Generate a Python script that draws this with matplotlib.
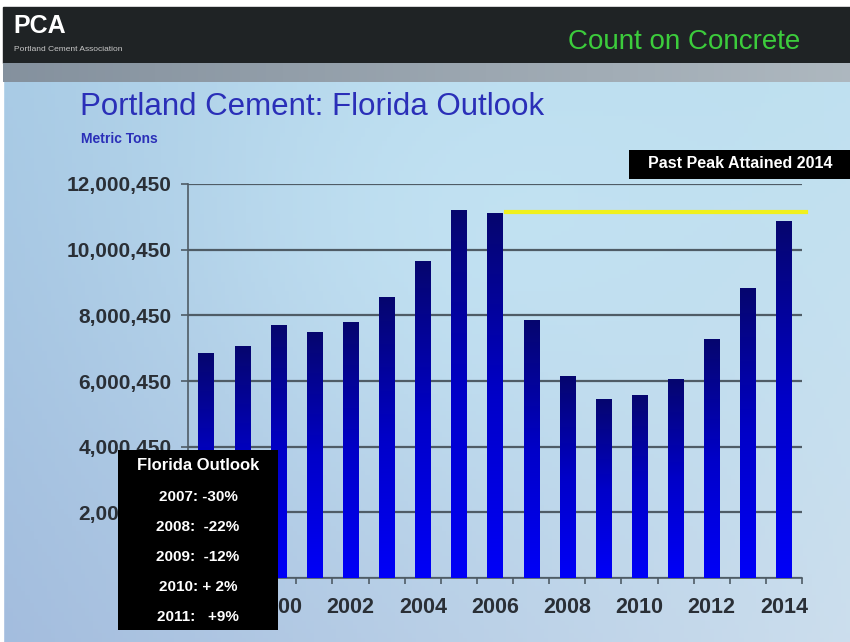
import numpy as np
import matplotlib
matplotlib.use('Agg')
from matplotlib import pyplot as plt
from matplotlib.patches import Rectangle
from matplotlib.colors import LinearSegmentedColormap

years = list(range(1998, 2015))
tons = [6.85e6, 7.06e6, 7.70e6, 7.48e6, 7.79e6, 8.55e6, 9.64e6, 11.18e6, 11.09e6,
        7.85e6, 6.15e6, 5.45e6, 5.55e6, 6.06e6, 7.27e6, 8.82e6, 10.85e6]
y_ticks = [0, 2e6, 4e6, 6e6, 8e6, 10e6, 12e6]
# the 0 label sits under the outlook box in the original, so it is left blank
y_labels = ['', '2,000,450', '4,000,450', '6,000,450', '8,000,450', '10,000,450', '12,000,450']
outlook = ['2007: -30%', '2008:  -22%', '2009:  -12%', '2010: + 2%', '2011:   +9%']

W, H = 850, 642
fig = plt.figure(figsize=(W / 100, H / 100), dpi=100)
sans = ['Liberation Sans', 'DejaVu Sans']

# slide background
bg = fig.add_axes([0, 0, 1, 1])
bg.axis('off')
xx, yy = np.meshgrid(np.linspace(0, 1, 200), np.linspace(0, 1, 150))
tl = np.array([0.66, 0.80, 0.90])
tr = np.array([0.74, 0.88, 0.94])
bl = np.array([0.64, 0.74, 0.87])
br = np.array([0.80, 0.87, 0.93])
img = (tl * ((1 - xx) * (1 - yy))[..., None] + tr * (xx * (1 - yy))[..., None]
       + bl * ((1 - xx) * yy)[..., None] + br * (xx * yy)[..., None])
bump = np.exp(-(((xx - 0.55) / 0.35) ** 2 + ((yy - 0.35) / 0.4) ** 2))[..., None]
img = img * (1 - 0.5 * bump) + np.array([0.80, 0.93, 0.98]) * 0.5 * bump
bg.imshow(np.clip(img, 0, 1), extent=(0, W, H, 0), aspect='auto', zorder=0)
bg.add_patch(Rectangle((0, 0), W, 7, color='white', zorder=1))
bg.add_patch(Rectangle((0, 0), 3, H, color='white', zorder=1))
bg.add_patch(Rectangle((3, 7), W, 56, color='#1f2325', zorder=1))
strip = np.linspace(0, 1, 100)[None, :, None] * np.array([0.16, 0.15, 0.13]) + np.array([0.52, 0.57, 0.62])
bg.imshow(strip, extent=(3, W, 82, 63), aspect='auto', zorder=1)
bg.set_xlim(0, W)
bg.set_ylim(H, 0)

fig.text(13 / W, 1 - 33 / H, 'PCA', color='white', fontsize=18, fontweight='bold',
         family=sans, va='baseline')
fig.text(14 / W, 1 - 51 / H, 'Portland Cement Association', color='#c8c8c8', fontsize=6,
         family=sans, va='baseline')
fig.text(800 / W, 1 - 42 / H, 'Count on Concrete', color='#3ccc3c', fontsize=20,
         family=sans, ha='right', va='center')
fig.text(80 / W, 1 - 115 / H, 'Portland Cement: Florida Outlook', color='#2a2fb8', fontsize=22.5,
         family=sans, va='baseline')
fig.text(81 / W, 1 - 143 / H, 'Metric Tons', color='#2a2fb8', fontsize=10, fontweight='bold',
         family=sans, va='baseline')

# chart
ax = fig.add_axes([188 / W, 1 - 578 / H, 614 / W, 394 / H])
ax.patch.set_alpha(0)
x = np.arange(len(years))
bw = 0.42
ax.bar(x, tons, width=bw, color='none', zorder=3)
cmap = LinearSegmentedColormap.from_list('b', ['#0000f8', '#0000c8', '#06066e'])
grad = np.linspace(0, 1, 256)[:, None]
for xi, v in zip(x, tons):
    ax.imshow(grad, cmap=cmap, extent=(xi - bw / 2, xi + bw / 2, 0, v), origin='lower',
              aspect='auto', zorder=3)

ax.set_xlim(-0.5, len(years) - 0.5)
ax.set_ylim(0, 12e6)
ax.set_yticks(y_ticks)
ax.set_yticklabels(y_labels)
ax.yaxis.grid(True, color='#4f5c66', linewidth=1.6, zorder=1)
ax.set_axisbelow(True)
# 1998 label is fully covered by the outlook box in the original
ax.set_xticks([i for i, yr in enumerate(years) if yr % 2 == 0 and yr > 1998])
ax.set_xticklabels([str(yr) for yr in years if yr % 2 == 0 and yr > 1998])
ax.set_xticks(np.arange(-0.5, len(years)), minor=True)
ax.tick_params(axis='x', which='major', length=0, pad=14, labelsize=15.5, labelcolor='#2a2f36')
ax.tick_params(axis='x', which='minor', length=4, width=1.2, color='#4f5c66', direction='out')
ax.tick_params(axis='y', length=5, width=1.2, color='#4f5c66', pad=7, labelsize=15,
               labelcolor='#2a2f36')
for lab in ax.get_xticklabels() + ax.get_yticklabels():
    lab.set_fontweight('bold')
    lab.set_family(sans)
for s in ['top', 'right']:
    ax.spines[s].set_visible(False)
for s in ['left', 'bottom']:
    ax.spines[s].set_color('#4f5c66')
    ax.spines[s].set_linewidth(1.2)

# past peak line
peak = max(tons)
i06 = years.index(2006)
ax.plot([i06 + 0.3, len(years) - 0.4], [peak * 0.997, peak * 0.997], color='#f0f01e',
        linewidth=3, zorder=4, clip_on=False)

# annotation boxes
fig.patches.append(Rectangle((629 / W, 1 - 179 / H), 221 / W, 29 / H, transform=fig.transFigure,
                             facecolor='black', edgecolor='none', zorder=5))
fig.text(740 / W, 1 - 164 / H, 'Past Peak Attained 2014', color='white', fontsize=11.5,
         fontweight='bold', ha='center', va='center', family=sans, zorder=6)
fig.patches.append(Rectangle((118 / W, 1 - 630 / H), 160 / W, 180 / H, transform=fig.transFigure,
                             facecolor='black', edgecolor='none', zorder=5))
fig.text(198 / W, 1 - 466 / H, 'Florida Outlook', color='white', fontsize=12, fontweight='bold',
         ha='center', va='center', family=sans, zorder=6)
for k, line in enumerate(outlook):
    fig.text(198 / W, 1 - (497 + 30 * k) / H, line, color='white', fontsize=11, fontweight='bold',
             ha='center', va='center', family=sans, zorder=6)

fig.savefig('out.png', dpi=100)
